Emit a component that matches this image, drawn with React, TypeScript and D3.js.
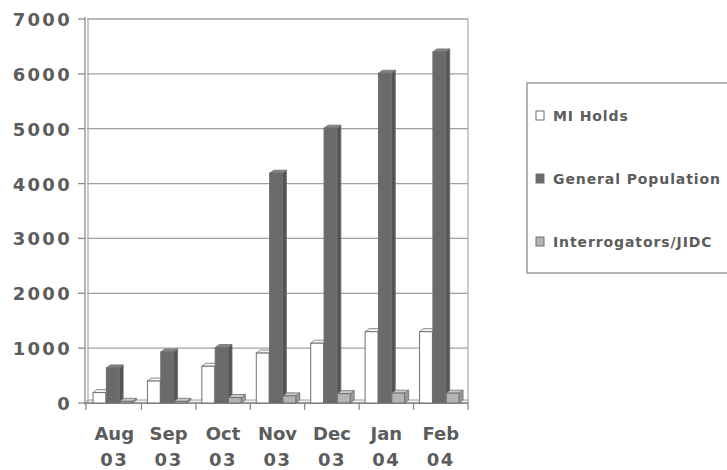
import React from "react";
import * as d3 from "d3";

const categories = ["Aug 03", "Sep 03", "Oct 03", "Nov 03", "Dec 03", "Jan 04", "Feb 04"];
const seriesNames = ["MI Holds", "General Population", "Interrogators/JIDC"];
const miHolds = [190, 400, 670, 910, 1090, 1300, 1300];
const generalPopulation = [640, 930, 1010, 4190, 5010, 6010, 6400];
const interrogators = [30, 30, 100, 130, 170, 180, 180];
const yTicks = [0, 1000, 2000, 3000, 4000, 5000, 6000, 7000];

const seriesValues = [miHolds, generalPopulation, interrogators];
const fills = [
  { front: "#ffffff", side: "#e6e6e6", top: "#f4f4f4" },
  { front: "#6a6a6a", side: "#545454", top: "#858585" },
  { front: "#b4b4b4", side: "#9a9a9a", top: "#cacaca" },
];

const W = 727;
const H = 470;
const left = 87;
const right = 468;
const top = 19;
const bottom = 403;
const dx = 4;
const dy = -3;
const textColor = "#5c5c5c";

export default function App() {
  const x = d3.scaleBand<string>().domain(categories).range([left, right]).padding(0);
  const inner = d3.scaleBand<string>().domain(seriesNames).range([6, 46]).padding(0);
  const y = d3.scaleLinear().domain([0, 7000]).range([bottom, top]);
  const bw = inner.bandwidth() - 0.5;

  return (
    <svg width={W} height={H} style={{ position: "absolute", left: 0, top: 0, background: "#fff" }}>
      <rect x={0} y={0} width={W} height={H} fill="#fff" />
      {/* gridlines */}
      {yTicks.map((t) => (
        <line key={"g" + t} x1={left} x2={right} y1={y(t)} y2={y(t)} stroke="#a0a0a0" strokeWidth={1.3} />
      ))}
      {/* right border */}
      <line x1={right} x2={right} y1={top} y2={bottom} stroke="#a8a8a8" strokeWidth={1.2} />
      {/* floor */}
      <polygon
        points={`${left},${bottom} ${right},${bottom} ${right},${bottom + dy} ${left},${bottom + dy}`}
        fill="#f2f2f2"
        stroke="#8a8a8a"
        strokeWidth={0.8}
      />
      {/* left axis double line */}
      <line x1={left - 2} x2={left - 2} y1={top - 2} y2={bottom + 2} stroke="#8a8a8a" strokeWidth={1.3} />
      <line x1={left + 1} x2={left + 1} y1={top} y2={bottom} stroke="#a8a8a8" strokeWidth={1.2} />
      {/* y ticks */}
      {yTicks.map((t) => (
        <g key={"t" + t}>
          <line x1={left - 9} x2={left - 2} y1={y(t)} y2={y(t)} stroke="#8a8a8a" strokeWidth={1.3} />
          <text
            x={72}
            y={y(t) + 7}
            textAnchor="end"
            fontFamily="DejaVu Sans"
            fontWeight="bold"
            fontSize={18}
            letterSpacing={2.3}
            fill={textColor}
          >
            {t}
          </text>
        </g>
      ))}
      {/* bottom axis */}
      <line x1={left - 2} x2={right} y1={bottom} y2={bottom} stroke="#8a8a8a" strokeWidth={1.3} />
      {categories.map((c, i) => (
        <line
          key={"ct" + c}
          x1={(x(c) as number) + (i === 0 ? -1 : 0)}
          x2={(x(c) as number) + (i === 0 ? -1 : 0)}
          y1={bottom}
          y2={bottom + 7}
          stroke="#8a8a8a"
          strokeWidth={1.3}
        />
      ))}
      <line x1={right} x2={right} y1={bottom} y2={bottom + 7} stroke="#8a8a8a" strokeWidth={1.3} />
      {/* bars */}
      {categories.map((c, ci) => (
        <g key={"b" + c}>
          {seriesNames.map((s, si) => {
            const v = seriesValues[si][ci];
            const bx = (x(c) as number) + (inner(s) as number);
            const by = y(v);
            const h = bottom - by;
            const f = fills[si];
            return (
              <g key={s}>
                <polygon
                  points={`${bx + bw},${by} ${bx + bw + dx},${by + dy} ${bx + bw + dx},${bottom + dy} ${bx + bw},${bottom}`}
                  fill={f.side}
                  stroke="#6f6f6f"
                  strokeWidth={0.8}
                />
                <polygon
                  points={`${bx},${by} ${bx + dx},${by + dy} ${bx + bw + dx},${by + dy} ${bx + bw},${by}`}
                  fill={f.top}
                  stroke="#6f6f6f"
                  strokeWidth={0.8}
                />
                <rect x={bx} y={by} width={bw} height={h} fill={f.front} stroke="#6f6f6f" strokeWidth={1} />
              </g>
            );
          })}
        </g>
      ))}
      {/* category labels */}
      {categories.map((c) => {
        const [m, yr] = c.split(" ");
        const cx = (x(c) as number) + x.bandwidth() / 2;
        return (
          <text
            key={"l" + c}
            x={cx}
            textAnchor="middle"
            fontFamily="DejaVu Sans"
            fontWeight="bold"
            fontSize={18}
            fill={textColor}
          >
            <tspan x={cx} y={440}>{m}</tspan>
            <tspan x={cx} y={466} letterSpacing={1.5}>{yr}</tspan>
          </text>
        );
      })}
      {/* legend */}
      <rect x={527} y={83} width={215} height={190} fill="#fff" stroke="#9a9a9a" strokeWidth={1.5} />
      {seriesNames.map((s, i) => {
        const ly = 121 + i * 63;
        return (
          <g key={"lg" + s}>
            <rect x={536} y={ly - 10} width={8} height={9} fill={fills[i].front} stroke="#6f6f6f" strokeWidth={1} />
            <text
              x={553}
              y={ly}
              fontFamily="DejaVu Sans"
              fontWeight="bold"
              fontSize={14}
              letterSpacing={0.9}
              fill={textColor}
            >
              {s}
            </text>
          </g>
        );
      })}
    </svg>
  );
}
